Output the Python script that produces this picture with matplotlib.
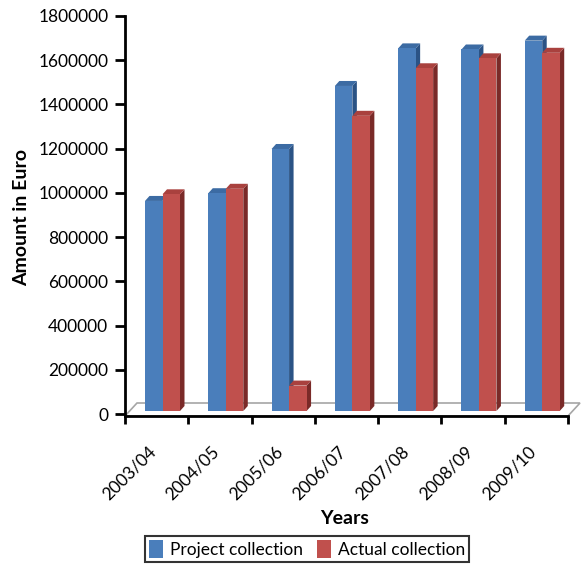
import matplotlib.pyplot as plt
from matplotlib.patches import Polygon, Patch
from matplotlib.transforms import ScaledTranslation

years = ["2003/04", "2004/05", "2005/06", "2006/07", "2007/08", "2008/09", "2009/10"]
project = [950000, 985000, 1185000, 1470000, 1640000, 1635000, 1675000]
actual = [980000, 1005000, 115000, 1335000, 1550000, 1595000, 1620000]
yticks = [0, 200000, 400000, 600000, 800000, 1000000, 1200000, 1400000, 1600000, 1800000]

plt.rcParams['font.family'] = ['Lato', 'DejaVu Sans']

W, H = 583, 566
fig = plt.figure(figsize=(W / 100, H / 100), dpi=100)
# axes box in pixels: left 125, right 568, top 16, bottom 416
ax = fig.add_axes([125 / W, (H - 416) / H, 443 / W, 400 / H])
ymin, ymax = -9000, 1800000
ax.set_xlim(0, len(years))
ax.set_ylim(ymin, ymax)

# pixel -> data conversion for the fake 3d offsets
px_x = len(years) / 443
px_y = (ymax - ymin) / 400

# floor of the 3d box
fdx, fdy = 12 * px_x, 13 * px_y
floor = Polygon([(0, ymin), (len(years), ymin), (len(years) + fdx, ymin + fdy), (fdx, ymin + fdy)],
                closed=True, facecolor='white', edgecolor='#a6a6a6', lw=1.2, clip_on=False, zorder=1)
ax.add_patch(floor)

bw = 17.5 * px_x          # bar width
start = 20 * px_x         # gap before the first bar of a group
base = 3 * px_y           # front faces stand a bit back on the floor
ddx, ddy = 4.5 * px_x, 5 * px_y  # bar depth

styles = [('#4a7ebb', '#3c6ba3', '#2b5385'), ('#c0504d', '#a9413e', '#7a2a28')]


def bar3d(x0, val, cols, z):
    front, top, side = cols
    x1 = x0 + bw
    y0, y1 = base, base + val
    ax.add_patch(Polygon([(x1, y0), (x1 + ddx, y0 + ddy), (x1 + ddx, y1 + ddy), (x1, y1)],
                         closed=True, facecolor=side, lw=0, clip_on=False, zorder=z))
    ax.add_patch(Polygon([(x0, y1), (x1, y1), (x1 + ddx, y1 + ddy), (x0 + ddx, y1 + ddy)],
                         closed=True, facecolor=top, lw=0, clip_on=False, zorder=z))
    ax.add_patch(Polygon([(x0, y0), (x1, y0), (x1, y1), (x0, y1)],
                         closed=True, facecolor=front, lw=0, clip_on=False, zorder=z))


for i in range(len(years)):
    bar3d(i + start, project[i], styles[0], 2)
    bar3d(i + start + bw, actual[i], styles[1], 3)

# axes lines and ticks
for s in ['top', 'right']:
    ax.spines[s].set_visible(False)
ax.spines['left'].set_linewidth(2)
ax.spines['bottom'].set_linewidth(2)
ax.spines['left'].set_bounds(ymin, ymax)

ax.set_yticks(yticks)
ax.set_yticklabels([str(v) for v in yticks], fontsize=12.5)
ax.tick_params(axis='y', length=7, width=2, pad=5)

ax.set_xticks(range(len(years) + 1))
ax.set_xticklabels([])
ax.tick_params(axis='x', which='major', length=6, width=2)
ax.set_xticks([i + 0.5 for i in range(len(years))], minor=True)
ax.set_xticklabels(years, minor=True, rotation=45, ha='right', va='center',
                   rotation_mode='anchor', fontsize=12.5)
ax.tick_params(axis='x', which='minor', length=0, pad=24)
shift = ScaledTranslation(-3 / 100, 0, fig.dpi_scale_trans)
for lab in ax.get_xticklabels(minor=True):
    lab.set_transform(lab.get_transform() + shift)

fig.text(345 / W, 1 - 519 / H, "Years", ha='center', va='center',
         fontsize=14, fontweight='bold')
fig.text(22 / W, 1 - 217 / H, "Amount in Euro", rotation=90, ha='center', va='center',
         fontsize=14, fontweight='bold')

handles = [Patch(facecolor=styles[0][0], label="Project collection"),
           Patch(facecolor=styles[1][0], label="Actual collection")]
leg = fig.legend(handles=handles, loc='center', bbox_to_anchor=(307 / W, 1 - 549 / H), ncol=2,
                 frameon=True, fancybox=False, edgecolor='black', fontsize=12.5,
                 handlelength=0.8, handleheight=1.2, handletextpad=0.4, columnspacing=0.8,
                 borderpad=0.25, borderaxespad=0)
leg.get_frame().set_linewidth(1.5)

fig.savefig("out.png", dpi=100)
